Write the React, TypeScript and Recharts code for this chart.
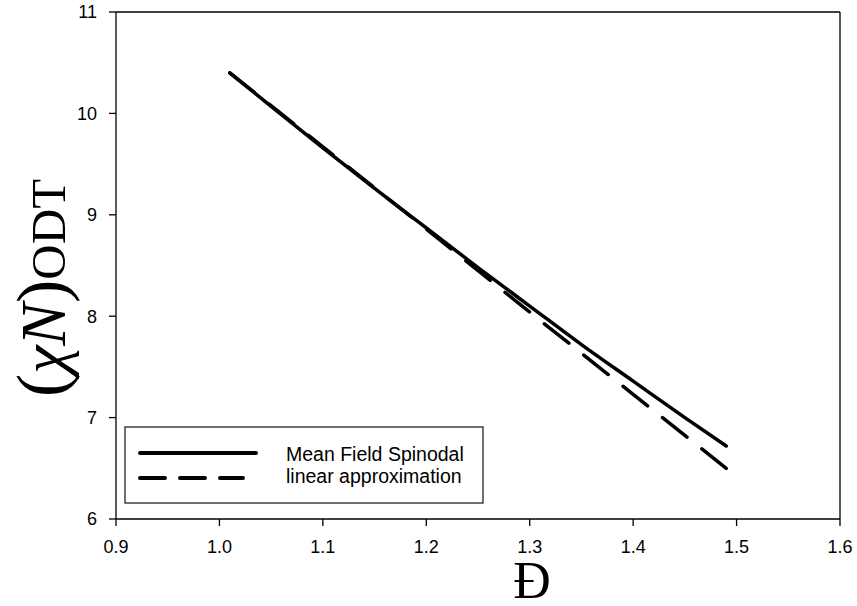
import {
  LineChart,
  Line,
  XAxis,
  YAxis,
  ReferenceLine,
} from "recharts";

// dispersity values (x axis)
const dispersity = [1.01, 1.05, 1.1, 1.15, 1.2, 1.25, 1.3, 1.35, 1.4, 1.45, 1.49];
// Mean field spinodal
const spinodal = [10.4, 10.07, 9.66, 9.26, 8.87, 8.48, 8.1, 7.72, 7.36, 7.0, 6.72];
// linear approximation, read at a few points
const linearD = [1.01, 1.1, 1.2, 1.3, 1.4, 1.49];
const linearVals = [10.4, 9.67, 8.86, 8.04, 7.23, 6.5];

const xTicks = [0.9, 1.0, 1.1, 1.2, 1.3, 1.4, 1.5, 1.6];
const yTicks = [6, 7, 8, 9, 10, 11];

const SERIES = ["Mean Field Spinodal", "linear approximation"];

const tickFont = { fontFamily: "Liberation Sans, Arial, sans-serif", fontSize: 18, fill: "#000" };
const legendFont = { fontFamily: "Liberation Sans, Arial, sans-serif", fontSize: 19.5, fill: "#000" };

// legend drawn as plain svg so it doesn't steal room from the plot
function LegendBox() {
  return (
    <g transform="translate(125,427)">
      <rect x={0} y={0} width={358} height={76} fill="#fff" stroke="#222" strokeWidth={1.3} />
      <line x1={15} y1={26} x2={131} y2={26} stroke="#000" strokeWidth={4} strokeLinecap="round" />
      <line
        x1={15}
        y1={51}
        x2={118}
        y2={51}
        stroke="#000"
        strokeWidth={4}
        strokeLinecap="round"
        strokeDasharray="25 15"
      />
      <text x={161} y={34} {...legendFont}>
        {SERIES[0]}
      </text>
      <text x={161} y={56} {...legendFont}>
        {SERIES[1]}
      </text>
    </g>
  );
}

function YLabel() {
  return (
    <text
      transform="translate(65,288) rotate(-90)"
      textAnchor="middle"
      fontFamily="Liberation Serif, DejaVu Serif, serif"
      fill="#000"
    >
      <tspan fontSize={70}>(</tspan>
      <tspan fontSize={64} fontStyle="italic">
        χN
      </tspan>
      <tspan fontSize={70}>)</tspan>
      <tspan fontSize={49}>ODT</tspan>
    </text>
  );
}

function XLabel() {
  return (
    <text
      x={532}
      y={598}
      textAnchor="middle"
      fontFamily="Liberation Serif, DejaVu Serif, serif"
      fontSize={52}
      fill="#000"
    >
      Đ
    </text>
  );
}

export default function App() {
  const solidData = dispersity.map((d, i) => ({ x: d, y: spinodal[i] }));
  const linearData = linearD.map((d, i) => ({ x: d, y: linearVals[i] }));

  return (
    <div style={{ position: "absolute", left: 0, top: 0, background: "#fff" }}>
      <LineChart width={857} height={606} margin={{ top: 12, right: 17, left: 0, bottom: 0 }}>
        <XAxis
          type="number"
          dataKey="x"
          domain={[0.9, 1.6]}
          ticks={xTicks}
          tickFormatter={(v: number) => v.toFixed(1)}
          height={87}
          tickSize={7}
          tickMargin={14}
          tick={tickFont}
          axisLine={{ stroke: "#000", strokeWidth: 1.3 }}
          tickLine={{ stroke: "#000", strokeWidth: 1.3 }}
          allowDataOverflow
          label={<XLabel />}
        />
        <YAxis
          type="number"
          dataKey="y"
          domain={[6, 11]}
          ticks={yTicks}
          width={116}
          tickSize={7}
          tickMargin={12}
          tick={tickFont}
          axisLine={{ stroke: "#000", strokeWidth: 1.3 }}
          tickLine={{ stroke: "#000", strokeWidth: 1.3 }}
          allowDataOverflow
          label={<YLabel />}
        />
        <ReferenceLine y={11} stroke="#000" strokeWidth={1.3} />
        <ReferenceLine x={1.6} stroke="#000" strokeWidth={1.3} />
        <LegendBox />
        <Line
          data={solidData}
          dataKey="y"
          name={SERIES[0]}
          type="monotone"
          stroke="#000"
          strokeWidth={3.5}
          strokeLinecap="round"
          dot={false}
          isAnimationActive={false}
        />
        <Line
          data={linearData}
          dataKey="y"
          name={SERIES[1]}
          type="linear"
          stroke="#000"
          strokeWidth={3.5}
          strokeLinecap="round"
          strokeDasharray="31.3 19"
          dot={false}
          isAnimationActive={false}
        />
      </LineChart>
    </div>
  );
}
